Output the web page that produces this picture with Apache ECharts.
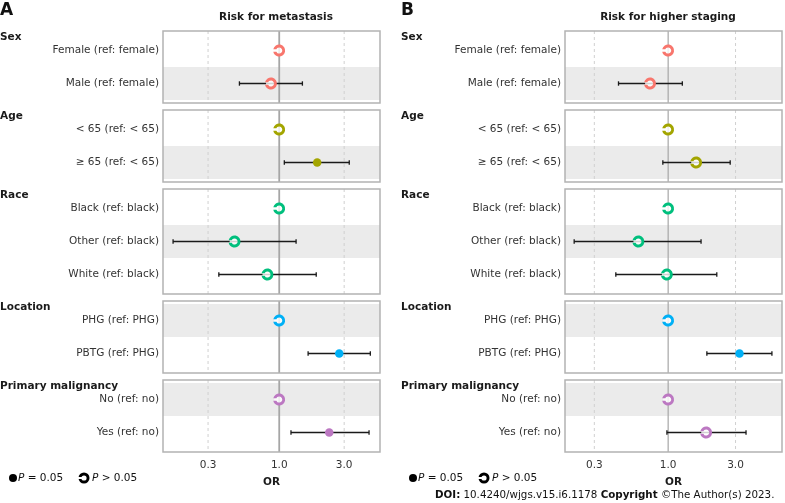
<!DOCTYPE html>
<html lang="en">
<head>
    <meta charset="UTF-8">
    <title>Forest plot</title>
    <script src="https://cdn.jsdelivr.net/npm/echarts@6/dist/echarts.min.js"></script>
    <style>
        html, body { margin: 0; padding: 0; background: #fff; }
        #main { width: 785px; height: 503px; }
    </style>
</head>
<body>
<div id="main"></div>
<script type="text/javascript">
    // groups and rows
    var groups = ['Sex', 'Age', 'Race', 'Location', 'Primary malignancy'];
    var rowLabels = [
        ['Female (ref: female)', 'Male (ref: female)'],
        ['< 65 (ref: < 65)', '≥ 65 (ref: < 65)'],
        ['Black (ref: black)', 'Other (ref: black)', 'White (ref: black)'],
        ['PHG (ref: PHG)', 'PBTG (ref: PHG)'],
        ['No (ref: no)', 'Yes (ref: no)']
    ];
    var groupColors = ['#F8766D', '#A3A500', '#00BF7D', '#00B0F6', '#BC78C2'];
    var tickValues = [0.3, 1.0, 3.0];

    // Risk for metastasis (OR, 95% CI, 1 = P = 0.05)
    var metaOR   = [[1.00, 0.87], [1.00, 1.90], [1.00, 0.47, 0.82], [1.00, 2.76], [1.00, 2.33]];
    var metaLow  = [[null, 0.51], [null, 1.09], [null, 0.166, 0.36], [null, 1.63], [null, 1.22]];
    var metaHigh = [[null, 1.48], [null, 3.27], [null, 1.33, 1.87], [null, 4.67], [null, 4.57]];
    var metaSig  = [[0, 0], [0, 1], [0, 0, 0], [0, 1], [0, 1]];

    // Risk for higher staging
    var stageOR   = [[1.00, 0.745], [1.00, 1.58], [1.00, 0.616, 0.98], [1.00, 3.20], [1.00, 1.86]];
    var stageLow  = [[null, 0.445], [null, 0.917], [null, 0.216, 0.426], [null, 1.88], [null, 0.98]];
    var stageHigh = [[null, 1.26], [null, 2.75], [null, 1.71, 2.21], [null, 5.43], [null, 3.56]];
    var stageSig  = [[0, 0], [0, 0], [0, 0, 0], [0, 1], [0, 0]];

    var FONT = 'DejaVu Sans';
    // open "C" ring marker (P > 0.05)
    var ringPath = 'M0.202 8A10 10 0 1 1 0.202 12L5.417 12A5 5 0 1 0 5.417 8Z';

    var panels = [
        {letter: 'A', title: 'Risk for metastasis', left: 163, width: 217, min: 0.14, max: 5.5,
         headX: 0, titleX: 276, refWidth: 1.8, legX: 13,
         or: metaOR, low: metaLow, high: metaHigh, sig: metaSig},
        {letter: 'B', title: 'Risk for higher staging', left: 565, width: 217, min: 0.186, max: 6.4,
         headX: 401, titleX: 668, refWidth: 1.2, legX: 413,
         or: stageOR, low: stageLow, high: stageHigh, sig: stageSig}
    ];

    var ROW_H = 33, PAD = 3, GAP = 7, TOP0 = 31;

    var grids = [], xAxes = [], yAxes = [], series = [], graphics = [];

    panels.forEach(function (p, pi) {
        var boxTop = TOP0;
        var globalRow = 0;
        graphics.push({type: 'text', left: p.headX, top: 2,
            style: {text: p.letter, font: 'bold 17px ' + FONT, fill: '#111'}});
        graphics.push({type: 'text', x: p.titleX, y: 17,
            style: {text: p.title, font: 'bold 10.5px ' + FONT, fill: '#1a1a1a', align: 'center', verticalAlign: 'middle'}});

        groups.forEach(function (g, gi) {
            var rows = rowLabels[gi];
            var n = rows.length;
            var idx = grids.length;
            var last = gi === groups.length - 1;
            grids.push({left: p.left, top: boxTop + PAD, width: p.width, height: n * ROW_H, containLabel: false});
            graphics.push({type: 'rect', shape: {x: p.left, y: boxTop, width: p.width, height: n * ROW_H + 2 * PAD},
                style: {fill: 'none', stroke: '#B3B3B3', lineWidth: 1.5}, z: 100});
            graphics.push({type: 'text', x: p.headX, y: boxTop + 6,
                style: {text: g, font: 'bold 10.5px ' + FONT, fill: '#1a1a1a', verticalAlign: 'middle'}});

            xAxes.push({
                type: 'log', logBase: 10, gridIndex: idx, min: p.min, max: p.max,
                axisLine: {show: false}, axisTick: {show: false}, splitLine: {show: false},
                minorTick: {show: false}, minorSplitLine: {show: false},
                axisLabel: {show: last, customValues: tickValues, margin: 11, color: '#333', fontFamily: FONT, fontSize: 10.5,
                    formatter: function (v) { return Number(v).toFixed(1); }},
                name: last ? 'OR' : '', nameLocation: 'middle', nameGap: 28,
                nameTextStyle: {fontFamily: FONT, fontWeight: 'bold', fontSize: 10.5, color: '#1a1a1a'}
            });
            yAxes.push({
                type: 'category', gridIndex: idx, data: rows, inverse: true,
                axisLine: {show: false}, axisTick: {show: false}, splitLine: {show: false},
                axisLabel: {margin: 4, color: '#333', fontFamily: FONT, fontSize: 10.5}
            });

            // alternating shaded rows
            var bandData = [];
            rows.forEach(function (r, ri) {
                if ((globalRow + ri) % 2 === 1) bandData.push([1, r]);
            });
            globalRow += n;
            series.push({
                type: 'custom', xAxisIndex: idx, yAxisIndex: idx, z: 0, silent: true,
                data: bandData, encode: {x: 0, y: 1},
                renderItem: function (params, api) {
                    var c = api.coord([1, api.value(1)]);
                    var h = api.size([0, 1])[1];
                    var cs = params.coordSys;
                    return {type: 'rect', shape: {x: cs.x, y: c[1] - h / 2, width: cs.width, height: h},
                        style: {fill: '#EBEBEB'}};
                }
            });

            // vertical reference lines at tick values
            series.push({
                type: 'custom', xAxisIndex: idx, yAxisIndex: idx, z: 1, silent: true,
                data: tickValues.map(function (v) { return [v, rows[0]]; }), encode: {x: 0, y: 1},
                renderItem: function (params, api) {
                    var v = api.value(0);
                    var x = api.coord([v, api.value(1)])[0];
                    var cs = params.coordSys;
                    var isOne = Math.abs(v - 1) < 1e-9;
                    return {type: 'line', shape: {x1: x, y1: cs.y - PAD, x2: x, y2: cs.y + cs.height + PAD},
                        style: isOne ? {stroke: '#A6A6A6', lineWidth: p.refWidth}
                                     : {stroke: '#D0D0D0', lineWidth: 1, lineDash: [3, 3]}};
                }
            });

            // confidence intervals
            var ciData = [];
            rows.forEach(function (r, ri) {
                if (p.low[gi][ri] != null) ciData.push([p.low[gi][ri], p.high[gi][ri], r]);
            });
            series.push({
                type: 'custom', xAxisIndex: idx, yAxisIndex: idx, z: 3, silent: true,
                data: ciData, encode: {x: [0, 1], y: 2},
                renderItem: function (params, api) {
                    var a = api.coord([api.value(0), api.value(2)]);
                    var b = api.coord([api.value(1), api.value(2)]);
                    var st = {stroke: '#1a1a1a', lineWidth: 1.3};
                    return {type: 'group', children: [
                        {type: 'line', shape: {x1: a[0], y1: a[1], x2: b[0], y2: b[1]}, style: st},
                        {type: 'line', shape: {x1: a[0], y1: a[1] - 2.2, x2: a[0], y2: a[1] + 2.2}, style: st},
                        {type: 'line', shape: {x1: b[0], y1: b[1] - 2.2, x2: b[0], y2: b[1] + 2.2}, style: st}
                    ]};
                }
            });

            // white fill under open markers, then the markers
            var openData = [], pointData = [];
            rows.forEach(function (r, ri) {
                var sig = p.sig[gi][ri] === 1;
                if (!sig) openData.push([p.or[gi][ri], r]);
                pointData.push({
                    value: [p.or[gi][ri], r],
                    symbol: sig ? 'circle' : 'path://' + ringPath,
                    symbolSize: sig ? 8.5 : 12
                });
            });
            series.push({
                type: 'scatter', xAxisIndex: idx, yAxisIndex: idx, z: 4, silent: true,
                symbol: 'circle', symbolSize: 10, itemStyle: {color: '#fff'}, data: openData
            });
            series.push({
                type: 'scatter', xAxisIndex: idx, yAxisIndex: idx, z: 5, silent: true,
                symbolKeepAspect: true, itemStyle: {color: groupColors[gi], opacity: 1}, data: pointData
            });

            boxTop += n * ROW_H + 2 * PAD + GAP;
        });

        // legend
        var ly = 478;
        graphics.push({type: 'circle', shape: {cx: p.legX, cy: ly, r: 4}, style: {fill: '#000'}});
        graphics.push({type: 'text', x: p.legX + 5, y: ly,
            style: {text: '{i|P} = 0.05', font: '10.5px ' + FONT, fill: '#111', verticalAlign: 'middle',
                rich: {i: {fontStyle: 'italic', fontFamily: FONT, fontSize: 10.5}}}});
        graphics.push({type: 'ring', shape: {cx: p.legX + 71, cy: ly, r: 5.5, r0: 2.6}, style: {fill: '#000'}});
        graphics.push({type: 'rect', shape: {x: p.legX + 65, y: ly - 1, width: 5, height: 2}, style: {fill: '#fff'}});
        graphics.push({type: 'text', x: p.legX + 79, y: ly,
            style: {text: '{i|P} > 0.05', font: '10.5px ' + FONT, fill: '#111', verticalAlign: 'middle',
                rich: {i: {fontStyle: 'italic', fontFamily: FONT, fontSize: 10.5}}}});
    });

    graphics.push({type: 'text', x: 435, y: 495,
        style: {text: '{b|DOI:} 10.4240/wjgs.v15.i6.1178 {b|Copyright} ©The Author(s) 2023.',
            font: '10.3px ' + FONT, fill: '#111', verticalAlign: 'middle',
            rich: {b: {fontWeight: 'bold', fontFamily: FONT, fontSize: 10.3}}}});

    var myChart = echarts.init(document.getElementById('main'));
    myChart.setOption({
        animation: false,
        backgroundColor: '#fff',
        grid: grids,
        xAxis: xAxes,
        yAxis: yAxes,
        series: series,
        graphic: graphics
    });
</script>
</body>
</html>
